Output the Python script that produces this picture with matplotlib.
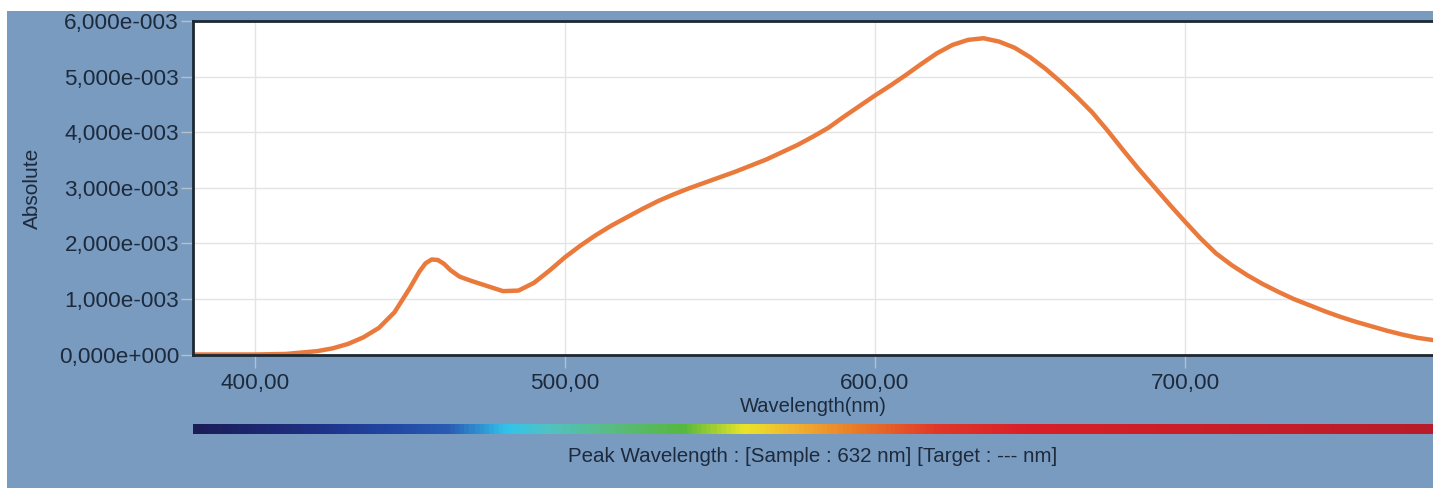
import numpy as np
import matplotlib
matplotlib.use("Agg")
import matplotlib.pyplot as plt
from matplotlib.colors import LinearSegmentedColormap
from matplotlib.patches import Rectangle
from matplotlib.ticker import FuncFormatter

# spectrum (absolute, in units of 1e-3)
wavelength = [380, 390, 400, 410, 420, 425, 430, 435, 440, 445, 450, 453, 455, 457, 459,
              461, 463, 466, 470, 475, 480, 485, 490, 495, 500, 505, 510, 515, 520,
              525, 530, 535, 540, 545, 550, 555, 560, 565, 570, 575, 580, 585, 590,
              595, 600, 605, 610, 615, 620, 625, 630, 635, 640, 645, 650, 655, 660,
              665, 670, 675, 680, 685, 690, 695, 700, 705, 710, 715, 720, 725, 730,
              735, 740, 745, 750, 755, 760, 765, 770, 775, 780]
absolute_e3 = [0.00, 0.00, 0.00, 0.01, 0.06, 0.11, 0.19, 0.31, 0.48, 0.76, 1.20, 1.49, 1.64, 1.71, 1.70,
               1.63, 1.52, 1.40, 1.32, 1.23, 1.14, 1.15, 1.29, 1.51, 1.75, 1.96, 2.15, 2.32, 2.47,
               2.62, 2.76, 2.88, 2.99, 3.09, 3.19, 3.29, 3.40, 3.51, 3.64, 3.77, 3.92, 4.08, 4.28,
               4.47, 4.66, 4.84, 5.03, 5.23, 5.42, 5.57, 5.66, 5.69, 5.63, 5.52, 5.35, 5.14, 4.90,
               4.64, 4.36, 4.03, 3.68, 3.34, 3.02, 2.70, 2.39, 2.09, 1.82, 1.61, 1.43, 1.27, 1.13,
               1.00, 0.89, 0.78, 0.68, 0.59, 0.51, 0.43, 0.36, 0.30, 0.26]

x_ticks = [400, 500, 600, 700]
y_ticks = [0, 1e-3, 2e-3, 3e-3, 4e-3, 5e-3, 6e-3]

spectrum_nm = [380, 415, 440, 462, 481, 495, 515, 538, 550, 558, 575, 595, 620, 650, 780]
spectrum_colors = ['#1c1c58', '#1e2e80', '#2044a0', '#2a5cb4', '#32c4ec', '#52c2c0',
                   '#5abc80', '#56b83e', '#b0d430', '#ece42a', '#f0b030', '#e87828',
                   '#e03828', '#d82028', '#b81c2a']

peak_text = "Peak Wavelength : [Sample : 632 nm] [Target : --- nm]"

BG = '#7a9bc0'
TXT = '#1c2a3c'
W, H = 1433, 488

plt.rcParams['font.family'] = ['Liberation Sans', 'DejaVu Sans']

fig = plt.figure(figsize=(W / 100, H / 100), dpi=100)
fig.patch.set_facecolor('white')
fig.add_artist(Rectangle((7 / W, 0), 1 - 7 / W, (H - 11) / H, transform=fig.transFigure,
                         facecolor=BG, edgecolor='none', zorder=-10))

ax = fig.add_axes([193 / W, (H - 354.5) / H, (W - 193) / W, (354.5 - 21) / H])
ax.set_facecolor('white')
ax.plot(wavelength, np.array(absolute_e3) * 1e-3, color='#ea7a3c', lw=3.2,
        solid_capstyle='round', solid_joinstyle='round')
ax.set_xlim(380, 780)
ax.set_ylim(0, 6e-3)
ax.set_xticks(x_ticks)
ax.set_yticks(y_ticks)


def yfmt(v, pos):
    if v == 0:
        return "0,000e+000"
    e = int(np.floor(np.log10(abs(v)) + 1e-9))
    m = v / 10 ** e
    return f"{m:.3f}".replace('.', ',') + f"e{'-' if e < 0 else '+'}{abs(e):03d}"


ax.yaxis.set_major_formatter(FuncFormatter(yfmt))
ax.xaxis.set_major_formatter(FuncFormatter(lambda v, p: f"{v:.2f}".replace('.', ',')))
ax.grid(True, color='#e4e4e4', lw=1)
ax.set_axisbelow(True)
ax.tick_params(axis='both', colors='#b4c0cc', labelcolor=TXT, labelsize=16.2, length=9, width=1)
ax.tick_params(axis='y', pad=1)
ax.tick_params(axis='x', pad=4)
for s in ['top', 'left', 'bottom']:
    ax.spines[s].set_color('#1c2833')
    ax.spines[s].set_linewidth(2)
ax.spines['right'].set_visible(False)

fig.text(32 / W, 1 - 188 / H, "Absolute", rotation=90, ha='center', va='center',
         fontsize=15, color=TXT)
fig.text(813 / W, 1 - 407 / H, "Wavelength(nm)", ha='center', va='center',
         fontsize=14.5, color=TXT)
fig.text(813 / W, 1 - 457 / H, peak_text, ha='center', va='center', fontsize=14.8, color=TXT)

cmap = LinearSegmentedColormap.from_list(
    'spec', list(zip([(n - 380) / 400 for n in spectrum_nm], spectrum_colors)))
cax = fig.add_axes([193 / W, (H - 434) / H, (W - 193) / W, 10 / H])
cax.imshow(np.linspace(0, 1, 800)[None, :], aspect='auto', cmap=cmap, extent=[380, 780, 0, 1])
cax.set_axis_off()

fig.savefig('out.png', dpi=100, facecolor=fig.get_facecolor())
